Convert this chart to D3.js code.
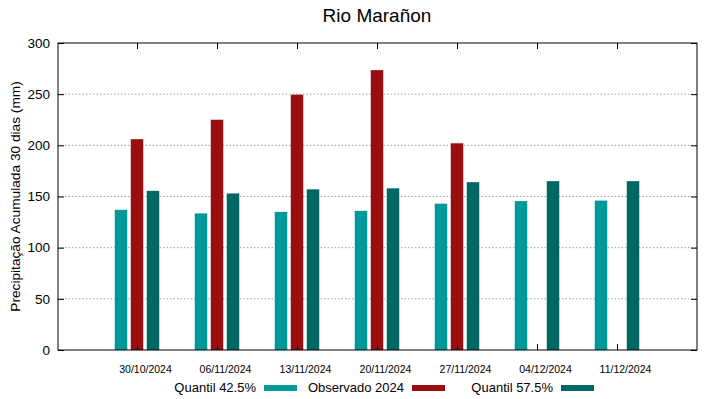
<!DOCTYPE html>
<html>
<head>
<meta charset="utf-8">
<title>Rio Marañon</title>
<script src="https://cdn.jsdelivr.net/npm/d3@7"></script>
<style>
  body { margin: 0; background: #fff; }
  svg { font-family: "Liberation Sans", Arial, sans-serif; }
</style>
</head>
<body>
<svg id="svg"></svg>
<script>
// data
var dates = ["30/10/2024", "06/11/2024", "13/11/2024", "20/11/2024", "27/11/2024", "04/12/2024", "11/12/2024"];
var q425 = [137, 133.5, 135, 136, 143, 145.5, 146];
var obs2024 = [206, 225, 249.5, 273.5, 202, null, null];
var q575 = [155.5, 153, 157, 158, 164, 165, 165];
var yTicks = [0, 50, 100, 150, 200, 250, 300];

var series = [
  {name: "Quantil 42.5%", values: q425, color: "#009999", off: -16},
  {name: "Observado 2024", values: obs2024, color: "#990e0e", off: 0},
  {name: "Quantil 57.5%", values: q575, color: "#006666", off: 16}
];

var width = 719, height = 399,
    m = {top: 43, left: 58, right: 22, bottom: 49};

var svg = d3.select("#svg").attr("width", width).attr("height", height);

var x = d3.scaleLinear().domain([-0.9875, 7]).range([m.left, width - m.right]);
var y = d3.scaleLinear().domain([0, 300]).range([height - m.bottom, m.top]);
var barW = 12.5;

// grid
svg.append("g").selectAll("line")
  .data(yTicks.filter(function(d){ return d > 0 && d < 300; }))
  .enter().append("line")
  .attr("x1", m.left).attr("x2", width - m.right)
  .attr("y1", function(d){ return y(d); }).attr("y2", function(d){ return y(d); })
  .attr("stroke", "#a0a0a0").attr("stroke-width", 1)
  .attr("stroke-dasharray", "1.5,2");

// bars
series.forEach(function(s){
  svg.append("g").selectAll("rect")
    .data(s.values.map(function(v, i){ return {v: v, i: i}; }).filter(function(d){ return d.v != null; }))
    .enter().append("rect")
    .attr("x", function(d){ return x(d.i) + s.off - barW / 2; })
    .attr("y", function(d){ return y(d.v); })
    .attr("width", barW)
    .attr("height", function(d){ return y(0) - y(d.v); })
    .attr("fill", s.color);
});

// y axis left & right
var axL = d3.axisLeft(y).tickValues(yTicks).tickSize(-6).tickPadding(8);
var gL = svg.append("g").attr("transform", "translate(" + m.left + ",0)").call(axL);
gL.selectAll("text").style("font-size", "13.5px").attr("fill", "#000");
var axR = d3.axisRight(y).tickValues(yTicks).tickSize(-6).tickFormat("");
svg.append("g").attr("transform", "translate(" + (width - m.right) + ",0)").call(axR);

// x axis bottom & top
var idx = d3.range(dates.length);
var axB = d3.axisBottom(x).tickValues(idx).tickSize(-6).tickPadding(16)
  .tickFormat(function(i){ return dates[i]; });
var gB = svg.append("g").attr("transform", "translate(0," + (height - m.bottom) + ")").call(axB);
gB.selectAll("text").style("font-size", "10.5px").attr("fill", "#000").attr("dx", 8);
var axT = d3.axisTop(x).tickValues(idx).tickSize(-6).tickFormat("");
svg.append("g").attr("transform", "translate(0," + m.top + ")").call(axT);

svg.selectAll(".tick line").attr("stroke", "#000");
svg.selectAll(".domain").attr("d", null);
svg.append("rect")
  .attr("x", m.left).attr("y", m.top)
  .attr("width", width - m.right - m.left).attr("height", height - m.bottom - m.top)
  .attr("fill", "none").attr("stroke", "#000").attr("stroke-width", 1);

// title
svg.append("text")
  .attr("x", 377).attr("y", 22)
  .attr("text-anchor", "middle")
  .style("font-size", "19px")
  .text("Rio Marañon");

// y label
svg.append("text")
  .attr("transform", "translate(20," + ((m.top + height - m.bottom) / 2) + ")rotate(-90)")
  .attr("text-anchor", "middle")
  .style("font-size", "13.7px")
  .text("Precipitação Acumulada 30 dias (mm)");

// legend
var legX = [256, 404, 553];
series.forEach(function(s, i){
  svg.append("text")
    .attr("x", legX[i]).attr("y", 392)
    .attr("text-anchor", "end")
    .style("font-size", "13px")
    .text(s.name);
  svg.append("rect")
    .attr("x", legX[i] + 8).attr("y", 385)
    .attr("width", 33).attr("height", 6)
    .attr("fill", s.color);
});
</script>
</body>
</html>
